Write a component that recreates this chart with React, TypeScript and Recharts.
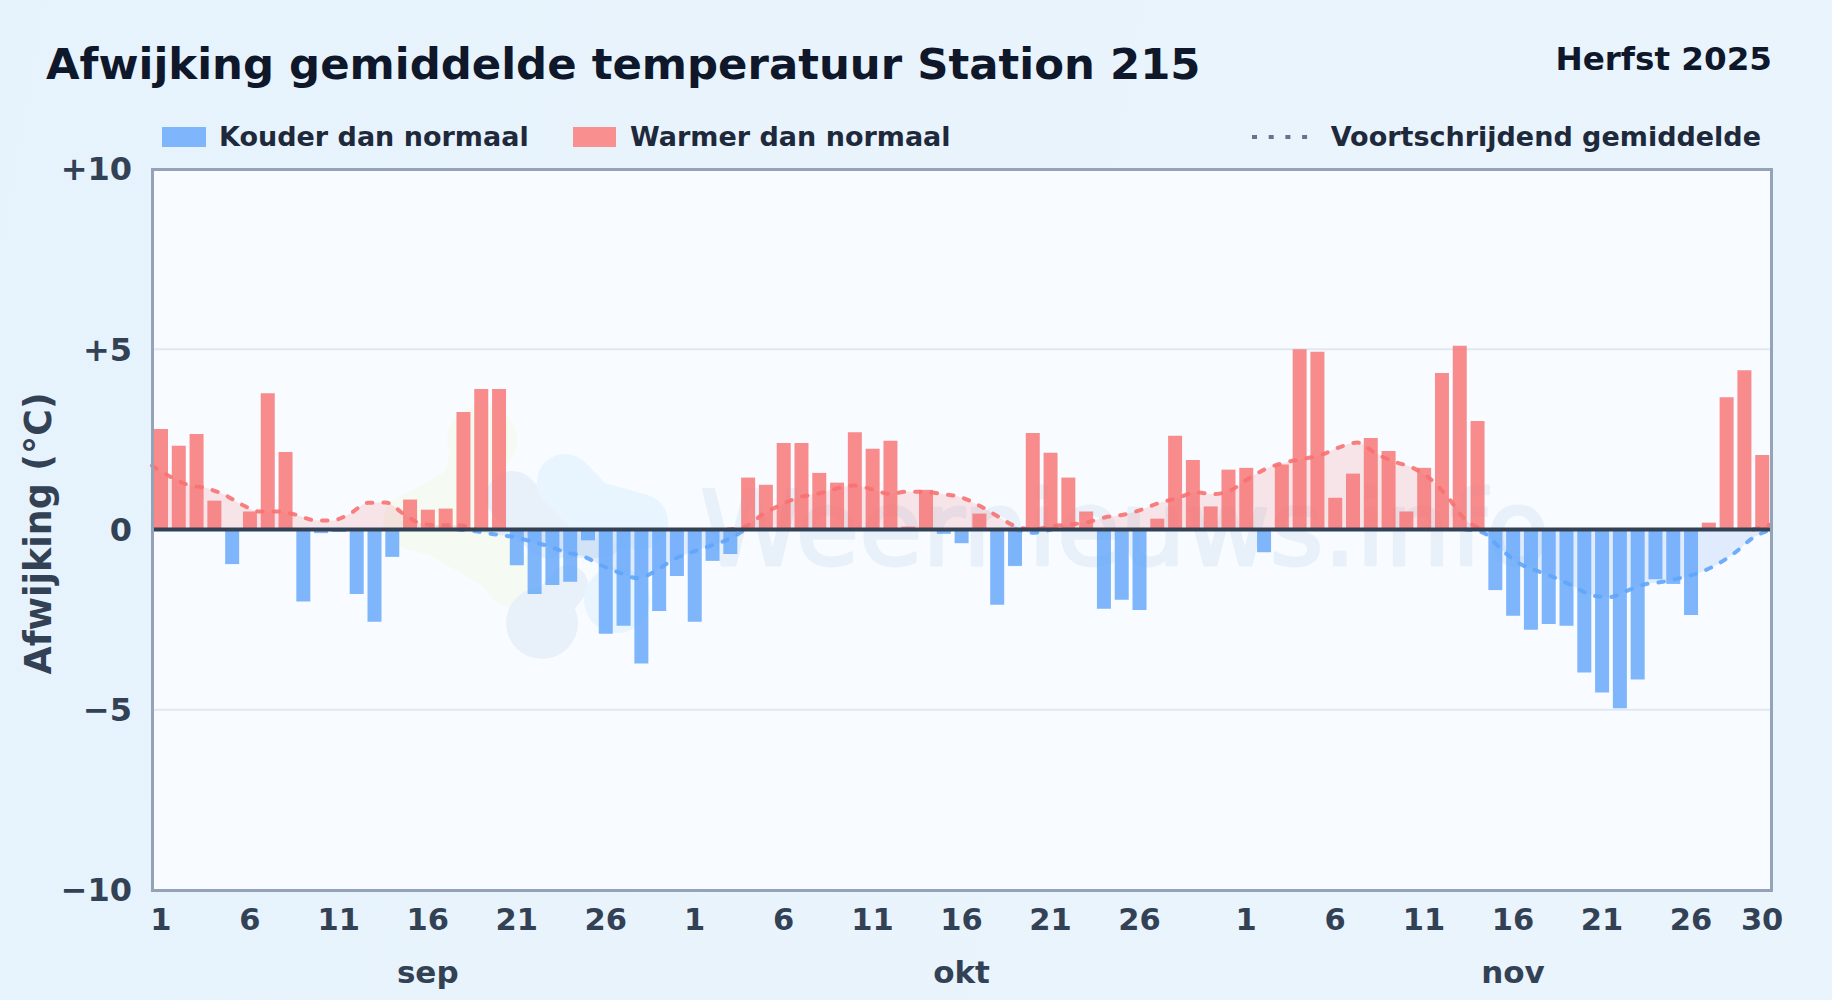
import React from 'react';
import { Area, Bar, CartesianGrid, Cell, ComposedChart, ReferenceLine, XAxis, YAxis } from 'recharts';

// one value per day, 1 sep - 30 nov
const deviations = [
    2.79, 2.32, 2.65, 0.8, -0.96, 0.5, 3.78, 2.15, -2.0, -0.1, -0.07, -1.79, -2.56, -0.76, 0.83, 0.55,
    0.58, 3.26, 3.9, 3.9, -0.99, -1.79, -1.54, -1.45, -0.3, -2.89, -2.67, -3.72, -2.26, -1.29,
    -2.56, -0.87, -0.68, 1.44, 1.24, 2.4, 2.4, 1.57, 1.3, 2.7, 2.24, 2.46, 0.08, 1.1, -0.12, -0.38,
    0.44, -2.09, -1.01, 2.68, 2.13, 1.44, 0.5, -2.2, -1.95, -2.23, 0.3, 2.6, 1.93, 0.64, 1.66,
    1.71, -0.63, 1.8, 5.0, 4.93, 0.88, 1.55, 2.54, 2.18, 0.5, 1.71, 4.34, 5.1, 3.01, -1.68, -2.39,
    -2.78, -2.62, -2.67, -3.97, -4.52, -4.96, -4.16, -1.38, -1.51, -2.37, 0.19, 3.67, 4.42, 2.07,
];

const rollingAvg = [
    1.77, 1.47, 1.24, 1.15, 0.97, 0.69, 0.5, 0.5, 0.41, 0.26, 0.25, 0.44, 0.74, 0.75, 0.43, 0.16,
    0.12, 0.12, -0.05, -0.13, -0.2, -0.32, -0.46, -0.63, -0.75, -1.0, -1.2, -1.35, -1.15, -0.83,
    -0.63, -0.46, -0.28, 0.09, 0.44, 0.69, 0.9, 0.99, 1.13, 1.22, 1.12, 0.99, 1.05, 1.04, 0.98, 0.89,
    0.66, 0.37, 0.09, -0.09, 0.09, 0.14, 0.2, 0.34, 0.41, 0.55, 0.74, 0.87, 1.03, 0.98, 1.1,
    1.43, 1.7, 1.86, 1.96, 2.07, 2.28, 2.41, 2.12, 1.89, 1.73, 1.43, 0.92, 0.28, -0.09, -0.55, -0.94,
    -1.15, -1.34, -1.57, -1.82, -1.88, -1.7, -1.52, -1.45, -1.34, -1.2, -0.97, -0.64, -0.23, 0.14,
];

const dayTicks = [0, 5, 10, 15, 20, 25, 30, 35, 40, 45, 50, 55, 61, 66, 71, 76, 81, 86, 90];
const dayLabels = ['1', '6', '11', '16', '21', '26', '1', '6', '11', '16', '21', '26', '1', '6', '11', '16', '21', '26', '30'];
const monthTicks = [15, 45, 76];
const monthLabels = ['sep', 'okt', 'nov'];
const yTicks = [-10, -5, 0, 5, 10];

const WARM = '#f98f8f';
const COLD = '#7fb5fb';
const FONT = '"DejaVu Sans", sans-serif';

// the average line changes colour at zero, so each part gets a 0 next to its own stretch
const onlySide = (sign: number) => (v: number, i: number, all: number[]) => {
    if (v * sign > 0) return v;
    if ((all[i - 1] ?? 0) * sign > 0 || (all[i + 1] ?? 0) * sign > 0) return 0;
    return null;
};
const warmAvg = rollingAvg.map(onlySide(1));
const coldAvg = rollingAvg.map(onlySide(-1));

const data = deviations.map((value, index) => ({
    index,
    value,
    warm: warmAvg[index],
    cold: coldAvg[index],
}));

const formatY = (v: number) => (v > 0 ? `+${v}` : v < 0 ? `\u2212${-v}` : '0');
const formatDay = (v: number) => dayLabels[dayTicks.indexOf(v)];
const formatMonth = (v: number) => monthLabels[monthTicks.indexOf(v)];

const Watermark = () => (
    <svg width={1619} height={721} style={{ position: 'absolute', left: 0, top: 0 }}>
        <g transform="translate(-152,-169)" fill="none" strokeLinecap="round" strokeLinejoin="round">
            <path d="M482 440 L468 490 L410 522 L440 530 L500 565 L512 580" stroke="#f5faf2" strokeWidth={54} />
            <circle cx={482} cy={440} r={35} fill="#f5faf2" />
            <path d="M512 497 L548 532 L600 532" stroke="#e8f1f9" strokeWidth={52} />
            <path d="M568 585 L548 610" stroke="#e8f1f9" strokeWidth={40} />
            <circle cx={542} cy={623} r={36} fill="#e8f1f9" />
            <path d="M565 482 L590 508 L640 522" stroke="#e8f5fe" strokeWidth={56} />
            <circle cx={617} cy={600} r={33} fill="#e8f5fe" />
            <text x={700} y={565} fontFamily={FONT} fontSize={103} fill="#e8f1fa" stroke="#e8f1fa" strokeWidth={3}>
                Weernieuws.info
            </text>
        </g>
    </svg>
);

const Legend = () => (
    <div style={{ fontFamily: FONT, fontWeight: 700, fontSize: 27, color: '#1e293b' }}>
        <span style={{ position: 'absolute', left: 162, top: 127, width: 44, height: 20, background: COLD }} />
        <span style={{ position: 'absolute', left: 219, top: 121 }}>Kouder dan normaal</span>
        <span style={{ position: 'absolute', left: 573, top: 127, width: 43, height: 20, background: WARM }} />
        <span style={{ position: 'absolute', left: 630, top: 121 }}>Warmer dan normaal</span>
        <svg width={60} height={10} style={{ position: 'absolute', left: 1250, top: 132 }}>
            <line x1={2} x2={58} y1={5} y2={5} stroke="#64748b" strokeWidth={4} strokeDasharray="5 11.7" />
        </svg>
        <span style={{ position: 'absolute', right: 71, top: 121 }}>Voortschrijdend gemiddelde</span>
    </div>
);

const App = () => {
    const tickStyle = { fontFamily: FONT, fontWeight: 700, fill: '#334155' };
    return (
        <div style={{ position: 'absolute', left: 0, top: 0, width: 1832, height: 1000, overflow: 'hidden', background: 'linear-gradient(100deg, #e7f3fc, #eaf4fd)' }}>
            <div style={{ position: 'absolute', left: 46, top: 39, fontFamily: FONT, fontWeight: 700, fontSize: 43.4, color: '#0f172a' }}>
                Afwijking gemiddelde temperatuur Station 215
            </div>
            <div style={{ position: 'absolute', right: 60, top: 40, fontFamily: FONT, fontWeight: 700, fontSize: 32.6, color: '#0f172a' }}>
                Herfst 2025
            </div>
            <Legend />
            <div style={{ position: 'absolute', left: 152, top: 169, width: 1619, height: 721, background: '#f8fbff' }}>
                <Watermark />
            </div>
            <div style={{ position: 'absolute', left: 151, top: 168, width: 1616, height: 718, border: '3px solid #94a3b8', zIndex: 2 }} />
            <div style={{ position: 'absolute', left: 0, top: 0, zIndex: 1 }}>
                <ComposedChart
                    width={1832}
                    height={1000}
                    data={data}
                    barSize={14}
                    margin={{ top: 169, right: 61, bottom: 0, left: 0 }}
                >
                    <CartesianGrid vertical={false} stroke="#e2e8f0" strokeWidth={2} syncWithTicks />
                    <XAxis
                        dataKey="index"
                        xAxisId="days"
                        ticks={dayTicks}
                        interval={0}
                        tickFormatter={formatDay}
                        tick={{ ...tickStyle, fontSize: 30.5, dy: -20 }}
                        tickLine={false}
                        axisLine={false}
                        height={50}
                    />
                    <XAxis
                        dataKey="index"
                        xAxisId="months"
                        ticks={monthTicks}
                        interval={0}
                        tickFormatter={formatMonth}
                        tick={{ ...tickStyle, fontSize: 31, dy: -17 }}
                        tickLine={false}
                        axisLine={false}
                        height={60}
                    />
                    <XAxis dataKey="index" xAxisId="avg" type="number" domain={[0, 90]} hide />
                    <YAxis
                        domain={[-10, 10]}
                        ticks={yTicks}
                        interval={0}
                        tickFormatter={formatY}
                        tick={{ ...tickStyle, fontSize: 32 }}
                        tickLine={false}
                        axisLine={false}
                        width={152}
                        tickMargin={14}
                        label={{
                            value: 'Afwijking (°C)',
                            angle: -90,
                            position: 'insideLeft',
                            offset: 38,
                            dy: 4,
                            style: { fontFamily: FONT, fontWeight: 700, fontSize: 36.4, fill: '#334155', textAnchor: 'middle' },
                        }}
                    />
                    <Bar dataKey="value" xAxisId="days" isAnimationActive={false}>
                        {deviations.map((v, i) => (
                            <Cell key={i} fill={v > 0 ? '#f87171' : '#60a5fa'} fillOpacity={0.8} />
                        ))}
                    </Bar>
                    <Area
                        dataKey="warm"
                        xAxisId="avg"
                        type="monotone"
                        baseValue={0}
                        stroke="#f87171"
                        strokeWidth={4}
                        strokeOpacity={0.9}
                        strokeDasharray="5.5 11"
                        strokeLinecap="round"
                        fill="#ef4444"
                        fillOpacity={0.12}
                        dot={false}
                        activeDot={false}
                        isAnimationActive={false}
                    />
                    <Area
                        dataKey="cold"
                        xAxisId="avg"
                        type="monotone"
                        baseValue={0}
                        stroke="#60a5fa"
                        strokeWidth={4}
                        strokeOpacity={0.9}
                        strokeDasharray="5.5 11"
                        strokeLinecap="round"
                        fill="#3b82f6"
                        fillOpacity={0.12}
                        dot={false}
                        activeDot={false}
                        isAnimationActive={false}
                    />
                    <ReferenceLine y={0} xAxisId="days" stroke="#334155" strokeWidth={4} />
                </ComposedChart>
            </div>
        </div>
    );
};

export default App;
